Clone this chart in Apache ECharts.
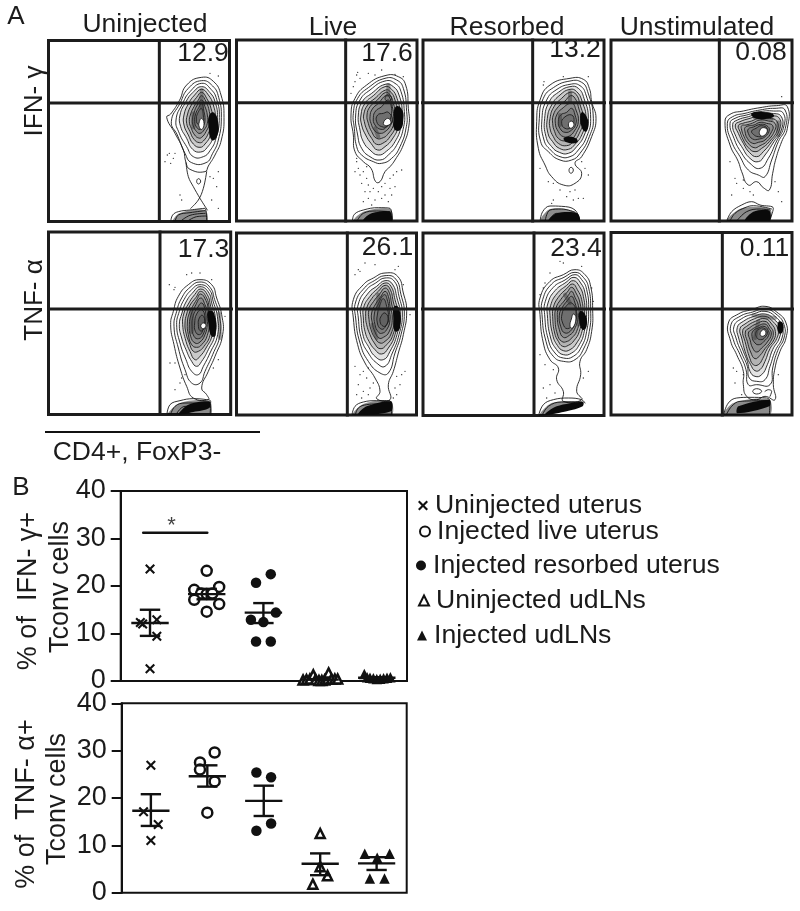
<!DOCTYPE html>
<html>
<head>
<meta charset="utf-8">
<style>
  html, body { margin: 0; background: #fff; }
  #main { width: 800px; height: 911px; }
</style>
<script src="https://cdn.jsdelivr.net/npm/echarts@6/dist/echarts.min.js"></script>
</head>
<body>
<div id="main"></div>
<script>
// --- panel A, contour plots. Flat x,y lists, in scan units
const gateX = [28, 32, 38, 28, 30, 37, 42, 37];
const gateY = [189, 203, 203, 203, 243, 243, 243, 243];

const rings = [
  [ // IFN uninjected
    [155,112,190,124,213,165,222,232,214,300,195,345,175,378,165,395,120,388,108,368,100,330,75,280,50,232,62,222,88,182,110,135],
    [155,122,188,138,206,172,214,232,205,300,188,340,168,368,125,368,105,340,82,285,64,245,90,190,115,145],
    [155,130,183,148,200,178,208,232,198,295,180,332,160,350,130,350,110,320,88,280,78,240,98,190,120,155],
    [155,140,180,158,195,185,202,232,190,290,172,322,152,336,128,328,110,295,92,260,90,225,108,185,128,158],
    [155,148,175,165,190,195,195,235,182,285,165,312,150,322,130,312,115,285,102,255,102,225,116,190,134,165],
    [155,157,170,175,183,205,188,240,175,280,160,303,148,308,132,298,120,275,110,250,112,225,124,195,140,172],
    [155,167,168,185,178,215,180,245,168,275,155,292,146,294,134,285,124,265,118,245,122,222,132,200,145,180],
    [155,180,165,200,172,225,172,250,162,270,150,280,140,275,130,258,127,240,132,218,142,195],
    [155,190,162,215,165,240,160,258,150,268,140,262,134,245,137,222,146,203],
    [155,205,160,228,160,245,152,256,143,252,139,240,143,220],
    [155,235,162,250,156,268,148,262,148,245],
    [145,416,152,423,146,432,140,425]
  ],
  [ // IFN live
    [150,122,190,125,212,150,220,220,222,270,205,330,180,375,165,395,150,410,135,440,122,440,108,400,85,380,60,350,55,300,48,240,60,190,95,150],
    [150,130,185,135,205,160,215,230,214,275,195,335,170,370,140,385,115,380,80,360,65,335,58,280,55,235,68,190,100,158],
    [150,138,180,145,198,170,208,230,206,275,188,325,160,360,135,375,105,365,80,340,68,300,62,240,75,195,105,165],
    [150,148,175,155,192,180,202,232,198,275,180,320,155,348,130,360,105,345,85,320,75,285,70,240,82,200,110,175],
    [150,155,170,163,186,190,195,235,190,275,172,312,150,335,128,345,108,325,92,300,80,270,78,240,90,205,115,182],
    [152,165,168,172,180,195,188,238,182,275,165,305,148,322,125,328,110,310,96,285,88,260,86,240,98,210,120,190],
    [152,172,165,180,175,205,182,240,175,272,158,298,145,308,125,310,110,290,100,265,96,240,105,215,125,197],
    [155,180,165,190,172,215,175,245,166,272,150,290,135,295,120,288,108,265,105,245,112,222,130,205],
    [158,195,168,210,168,245,155,275,138,283,120,270,115,248,122,228,140,215],
    [160,232,172,255,160,272,140,275,125,260,128,240,145,235],
    [160,180,170,190,160,200,150,190],
    [158,250,168,262,155,272,145,265]
  ],
  [ // IFN resorbed
    [150,130,190,133,208,160,215,200,228,250,215,305,185,365,165,385,185,415,165,445,130,450,95,425,75,390,55,340,50,260,60,195,90,150],
    [150,138,185,142,203,170,220,250,208,305,180,355,155,375,120,375,85,350,62,320,58,250,70,190,100,158],
    [150,148,180,152,198,180,212,250,200,305,175,345,150,365,120,365,92,345,72,315,66,250,80,195,108,165],
    [150,155,175,160,192,190,205,250,193,300,170,335,145,355,118,352,95,335,78,305,74,250,88,200,115,172],
    [150,163,170,170,186,198,198,252,186,298,165,328,145,343,118,340,98,320,84,295,82,250,95,210,120,180],
    [150,172,168,178,180,208,190,255,178,295,160,320,140,332,115,325,100,305,90,280,90,250,102,215,125,190],
    [152,182,165,190,175,215,182,258,170,292,155,312,135,318,115,310,104,290,98,265,100,240,115,215,135,198],
    [155,205,168,225,175,260,163,288,148,303,130,305,115,290,106,265,110,240,125,222],
    [155,220,165,240,168,265,155,285,135,292,120,280,115,260,122,240,140,232],
    [155,240,162,260,152,278,135,280,125,265,132,248],
    [153,258,162,268,153,280,145,270],
    [153,397,160,405,153,415,147,406]
  ],
  [ // IFN unstimulated
    [150,218,200,212,232,215,232,280,215,320,198,370,188,415,178,465,160,458,140,440,115,450,95,410,85,380,60,330,45,260,60,238,100,228],
    [150,225,195,220,225,225,226,280,205,320,185,375,165,425,145,420,115,405,90,365,65,320,52,265,68,245,105,235],
    [150,230,190,228,220,235,220,280,200,318,175,370,150,400,120,385,92,350,72,310,60,265,75,250,110,240],
    [150,235,185,235,214,245,214,285,192,320,165,360,145,380,120,370,95,335,78,305,68,268,82,255,115,245],
    [150,242,180,242,208,250,208,285,185,320,160,350,140,365,118,352,100,325,85,295,76,270,90,260,120,250],
    [150,248,178,250,200,258,202,285,178,320,155,340,135,350,115,338,100,315,90,290,85,272,98,265,125,258],
    [150,255,175,258,195,265,195,285,172,318,150,332,132,338,112,322,102,305,95,285,95,272,108,270,128,264],
    [150,262,170,265,188,272,185,290,165,315,145,322,128,325,112,310,105,290,105,278,118,272,132,270],
    [152,268,170,272,178,285,165,305,148,312,128,312,115,295,115,282,130,276],
    [155,272,172,282,162,302,145,305,130,298,125,288,138,280],
    [160,278,172,285,162,302,150,300,150,285]
  ],
  [ // TNF uninjected
    [150,155,185,170,200,210,215,260,218,320,195,385,175,430,155,480,170,500,175,515,130,510,110,475,90,420,72,350,62,290,70,250,85,205,115,170],
    [150,162,180,178,194,215,208,262,210,320,188,380,165,430,150,465,125,465,105,425,85,360,72,295,80,250,95,210,120,178],
    [150,170,178,185,190,222,202,265,203,320,180,375,160,415,145,440,125,430,108,395,90,345,80,290,88,250,102,215,125,185],
    [150,176,175,192,186,228,196,268,195,320,175,365,155,400,140,415,125,400,108,365,95,330,88,290,96,255,108,222,130,192],
    [152,183,172,200,182,235,190,270,187,320,168,360,150,385,135,395,120,370,108,340,98,290,102,255,115,228,134,200],
    [152,190,170,210,178,240,184,272,180,322,162,355,145,370,130,370,118,345,108,315,105,285,110,258,120,232,138,208],
    [152,198,168,218,175,245,178,275,172,322,155,350,140,358,125,350,115,320,112,285,118,255,128,235,140,215],
    [152,210,165,230,172,255,172,290,165,320,150,342,135,345,122,325,118,290,124,258,135,235],
    [155,225,165,245,168,280,160,318,146,332,132,325,126,295,130,262,142,240],
    [155,245,165,270,158,308,148,320,136,310,134,285,140,258],
    [158,262,165,285,160,305,150,308,145,290,148,270],
    [160,285,168,292,160,302,152,294]
  ],
  [ // TNF live
    [150,135,188,145,205,195,215,250,205,320,190,375,175,430,160,470,165,515,125,512,135,490,120,450,90,405,68,350,55,270,55,215,85,170,115,150],
    [150,143,182,153,198,200,208,255,198,320,180,375,160,435,135,435,100,400,75,345,62,270,62,222,90,178,118,158],
    [150,150,178,160,192,205,202,258,192,320,172,375,150,415,125,405,100,375,80,335,70,270,70,228,95,185,122,165],
    [150,158,172,168,186,210,196,260,186,320,165,370,145,395,120,385,100,355,85,325,78,270,78,235,100,195,125,175],
    [150,165,168,175,180,215,190,262,180,320,160,360,140,378,120,365,102,340,90,310,85,270,86,238,105,205,128,182],
    [150,172,165,183,175,222,184,265,174,320,155,350,135,362,118,345,105,320,95,290,92,265,95,240,110,212,130,190],
    [150,180,162,192,170,228,178,268,168,318,150,340,135,345,120,330,108,305,102,275,102,245,116,220,134,198],
    [150,190,160,205,165,235,172,270,162,312,145,328,132,330,120,312,112,285,110,255,122,228,136,208],
    [148,200,158,220,162,245,165,275,155,305,140,316,130,312,120,290,118,258,128,232],
    [145,212,155,235,160,270,150,298,138,303,127,285,128,255,135,230],
    [150,255,160,272,155,290,145,295,135,280,140,262]
  ],
  [ // TNF resorbed
    [165,125,195,140,212,175,218,245,215,310,200,365,180,400,182,440,170,490,185,515,130,520,130,490,110,455,115,420,90,395,70,345,60,260,60,210,90,160,130,140],
    [165,133,190,148,206,180,212,245,208,310,192,360,165,395,130,400,100,385,78,340,66,260,68,215,95,168,132,148],
    [165,140,185,155,200,185,206,248,200,310,185,355,160,385,130,390,105,375,85,335,74,260,76,220,100,178,135,156],
    [162,148,182,165,195,195,200,250,193,310,178,350,155,375,130,380,110,365,92,330,82,260,84,225,105,188,138,163],
    [160,158,178,175,190,205,194,252,186,310,170,345,150,365,130,368,112,352,98,320,90,262,92,232,110,198,140,172],
    [158,168,172,185,185,215,188,255,178,310,162,338,145,352,128,355,115,340,104,315,98,265,100,238,115,208,140,182],
    [155,178,168,195,180,225,182,258,170,310,155,330,142,340,125,340,112,318,105,270,108,240,122,215,142,192],
    [155,190,165,208,175,232,176,262,163,305,148,322,130,328,118,305,112,268,116,240,130,222,145,202],
    [155,205,165,225,170,250,168,275,155,305,135,315,122,295,118,262,126,240,142,218],
    [155,225,168,252,160,285,142,302,128,285,126,258,138,235],
    [160,258,168,270,158,300,150,295,155,270]
  ],
  [ // TNF unstimulated
    [165,235,200,252,228,285,228,330,210,370,195,420,190,470,195,515,165,505,140,515,110,505,100,470,100,430,80,380,62,340,55,285,85,258,125,245],
    [165,243,198,258,222,290,222,330,203,368,188,420,180,470,140,470,115,470,108,425,90,380,70,335,63,290,90,265,128,252],
    [165,250,195,265,216,295,216,330,196,368,180,415,165,455,140,460,118,450,112,415,95,375,78,330,72,295,95,272,130,258],
    [165,258,190,272,210,300,208,330,188,365,172,410,155,440,135,445,120,430,112,400,100,370,86,330,82,298,100,280,132,265],
    [165,265,188,280,204,305,200,332,180,362,165,400,150,425,135,428,122,410,110,385,95,330,90,302,105,288,134,272],
    [165,272,185,288,196,310,192,335,172,362,158,392,145,410,130,410,120,392,105,340,98,308,110,295,136,280],
    [165,280,180,295,190,315,182,340,165,362,150,382,135,392,122,372,112,340,106,312,118,300,138,288],
    [165,288,176,300,184,318,172,342,155,360,140,372,128,360,120,335,115,315,125,305,142,295],
    [162,295,175,308,176,322,162,340,148,350,135,345,126,325,130,308,145,300],
    [160,300,172,312,165,328,152,335,140,328,138,312,148,303],
    [160,305,168,315,158,325,150,318],
    [140,482,155,490,140,498,128,490]
  ]
];
// which ring of each plot is the pale hole in the middle
const paleRing = [10, 11, 10, 10, 11, 11, 10, 10];

// tails and the low population along the bottom edge, not closed
const openLines = [
  [[108,368,115,410,130,440,150,475,172,510],[170,395,160,445,145,480,122,505],[62,545,68,525,85,515,120,510,165,505,170,545],[75,545,85,525,120,518,165,512],[90,545,120,526,165,520],[110,545,140,530,168,528]],
  [[52,560,58,538,85,525,130,518,165,520,172,560],[65,560,85,535,125,528,165,530],[80,560,110,540,165,540]],
  [[60,560,68,530,90,513,125,514,165,525,180,560],[75,560,90,525,125,522,165,532],[85,560,110,535,170,540]],
  [[50,558,65,530,95,510,125,500,150,510,190,520,178,558],[60,558,75,535,105,518,130,512,185,522],[80,558,110,530,150,522,180,525]],
  [[50,565,60,530,90,518,130,512,170,515,182,520,180,565],[60,565,75,535,105,525,175,525],[75,565,105,535,175,535]],
  [[50,565,60,535,85,522,125,518,165,518,170,565],[60,565,70,540,95,530,125,528,168,528]],
  [[55,565,70,530,100,515,145,510,185,515,195,525],[65,565,85,535,125,522,185,522]],
  [[40,562,55,525,80,510,120,508,170,510,180,520,178,562],[48,562,65,535,90,520,175,518],[165,490,175,485,185,490,180,505]]
];

// saturated regions, closed outlines
const coreBlobs = [
  [[178,225,192,218,205,250,200,292,185,300,176,262]],
  [[182,215,200,222,205,255,195,285,178,282,176,250]],
  [[185,232,200,245,205,275,195,290,182,265],[132,308,165,308,172,322,140,322]],
  [[125,235,165,232,192,240,180,250,135,250]],
  [[175,250,192,255,197,320,185,325,175,285]],
  [[178,235,192,240,195,300,180,310,175,270]],
  [[180,250,195,258,200,295,188,305,178,278]],
  [[205,282,218,285,218,312,206,315]]
];
const baseShade = [
  [68,548,88,520,165,510,170,548],
  [55,560,85,530,165,522,170,560],
  [62,560,90,522,165,530,178,560],
  [52,558,95,520,180,522,178,558],
  [52,565,90,525,178,520,180,565],
  [52,565,85,528,168,520,168,565],
  [58,565,95,525,190,520,190,530],
  [42,562,70,525,178,515,178,562]
];
const baseCore = [
  [],
  [85,560,105,537,165,530,168,560],
  [85,560,110,535,172,535,178,560],
  [105,558,130,530,178,527,178,558],
  [85,560,115,530,178,520,178,540,130,552],
  [70,560,95,535,168,520,168,550],
  [75,560,110,535,188,522,188,535,140,550],
  [82,556,85,535,178,515,178,535]
];
const shadeBlobs = [
  [[130,220,130,262],[155,150,155,205]],
  [[160,150,160,180],[120,280,130,305]],
  [[150,172,150,200],[120,240,120,270]],
  [[135,248,185,252],[205,262,205,300]],
  [[125,250,125,312],[207,256,210,330]],
  [[130,200,130,235],[112,290,125,330]],
  [[135,200,150,225],[175,262,175,290]],
  [[130,262,195,270],[145,280,135,330]]
];

// single events outside the contours
const dots = [
  [70,355,58,340,62,370,45,365,190,415,205,395,185,480,95,480,180,100,205,108,180,410,90,465,52,345,75,340,200,440,205,505],
  [65,380,70,400,60,410,75,420,85,410,95,430,100,450,80,445,90,470,105,470,115,460,130,470,140,455,150,445,165,430,175,420,185,410,200,405,165,460,180,455,140,490,120,495,100,490,85,500,110,510,160,500,170,480,75,130,65,120,60,140,100,115,120,120,140,105,180,118,205,125,48,175,68,112,55,155,150,480,95,395,65,370],
  [70,150,72,140,130,125,205,125,195,400,185,380,60,400,100,445,85,440,120,465,150,470,165,465,190,490,175,490,100,495,140,485,205,420,95,505,160,495],
  [215,185,75,430,100,460,120,470,60,380,80,445,100,435,195,440,205,470,215,500,65,480,130,480],
  [110,140,125,135,150,135,185,155,58,170,72,185,75,178,60,405,75,405,95,450,75,485,90,465,105,440,190,420,205,395,225,265],
  [75,130,70,125,60,140,90,105,120,110,180,125,190,115,205,170,225,260,100,420,85,430,75,440,95,450,70,470,105,480,85,490,100,500,80,510,115,465,65,500,185,500,180,480,195,470,200,440,210,430,185,445,175,510,60,415],
  [70,180,60,200,75,165,90,135,120,100,130,105,185,115,215,180,220,220,60,380,75,410,100,425,90,470,105,495,70,480,80,510,190,450,205,430],
  [80,430,75,465,95,500,100,440,70,420,205,440]
];

const percentCounts = ['12.9', '17.6', '13.2', '0.08', '17.3', '26.1', '23.4', '0.11'];
const columnNames = ['Uninjected', 'Live', 'Resorbed', 'Unstimulated'];

// --- panel B
const groupNames = ['Uninjected uterus', 'Injected live uterus', 'Injected resorbed uterus', 'Uninjected udLNs', 'Injected udLNs'];
const yTicks = [0, 10, 20, 30, 40];

const ifnUninjected = [[1, 23.6], [0.83, 12.3], [0.87, 12], [1.12, 12.9], [1.12, 9.4], [1, 2.6]];
const ifnLive = [[2, 23.2], [1.78, 19.2], [2.22, 19.8], [1.9, 18.4], [2, 18.3], [2.1, 18.4], [1.78, 17.1], [2.22, 16.2], [2, 14.6]];
const ifnResorbed = [[2.87, 20.7], [3.13, 22.5], [3.22, 14.4], [2.78, 12.9], [3, 12.4], [2.87, 8.3], [3.13, 8.3]];
const ifnNodeCtrl = [[3.7, 0.2], [3.76, 0.3], [3.82, 0.4], [3.88, 1.3], [3.92, 0.3], [3.98, 0.1], [4.03, 0.1], [4.08, 0.2], [4.13, 0.4], [4.15, 1.7], [4.2, 0.4], [4.26, 0.4], [4.31, 0.4]];
const ifnNodeInj = [[4.78, 1.5], [4.83, 0.8], [4.88, 0.7], [4.94, 0.6], [5, 0.4], [5.06, 0.5], [5.12, 0.6], [5.18, 0.7], [5.24, 0.8]];
const ifnMeans = [12.2, 18.3, 14.4, 0.3, 0.7];
const ifnUpper = [15, 19.4, 16.4, 0.4, 0.8];
const ifnLower = [9.5, 17.2, 12.2, 0.2, 0.6];

const tnfUninjected = [[1, 26.9], [0.87, 17.1], [1.13, 14.4], [1, 11]];
const tnfLive = [[2.13, 29.6], [1.87, 27.5], [1.87, 26], [2.13, 23.5], [2, 16.9]];
const tnfResorbed = [[2.87, 25.4], [3.13, 24.4], [3.13, 14.6], [2.87, 13.1]];
const tnfNodeCtrl = [[4, 12.5], [4, 5.5], [4.13, 3.6], [3.87, 1.8]];
const tnfNodeInj = [[4.79, 8.2], [5.01, 7.4], [5.23, 8.2], [4.88, 3], [5.14, 3]];
const tnfMeans = [17.3, 24.6, 19.4, 6.1, 6.2];
const tnfUpper = [20.8, 26.9, 22.6, 8.3, 7.5];
const tnfLower = [14.1, 22.4, 16.2, 3.7, 4.8];

const sigBar = [[0.88, 31.2], [2.01, 31.2]];
const sigStar = [[1.38, 32.6]];

const INK = '#1c1c1c';
const FONT = '"Liberation Sans", Arial, sans-serif';
const CROSS = 'path://M0 1.5L1.5 0L5 3.5L8.5 0L10 1.5L6.5 5L10 8.5L8.5 10L5 6.5L1.5 10L0 8.5L3.5 5Z';

// frame of each contour plot on the page and the origin of its scan units
const boxes = [
  [48.5, 40.5, 229.5, 221.5], [236.5, 40, 417, 221], [423, 40, 604, 221], [611, 40, 792, 221],
  [48.5, 232, 230.7, 414.5], [236.5, 233, 416.5, 415], [423, 233, 604, 415.5], [611, 232.5, 792, 415]
];
const origins = [
  [150, 40], [335, 35], [520, 35], [710, 35],
  [150, 228], [335, 228], [520, 228], [710, 228]
];

const pairs = flat => {
  const out = [];
  for (let i = 0; i < flat.length; i += 2) out.push([flat[i], flat[i + 1]]);
  return out;
};

const grids = [], xAxes = [], yAxes = [], series = [];

const lineSeries = (i, data, width, color, smooth, z, opacity = 1) => ({
  type: 'line', xAxisIndex: i, yAxisIndex: i, data, smooth, silent: true, animation: false,
  symbol: 'none', z, lineStyle: { width, color, cap: 'round', join: 'round', opacity }
});

// closed smooth outlines, the style of each comes from styleOf(k)
const polySeries = (i, lists, styleOf, z, smooth = 0.5) => ({
  type: 'custom', xAxisIndex: i, yAxisIndex: i, silent: true, animation: false, z, clip: true,
  data: lists.map((r, k) => [k]),
  renderItem: (params, api) => {
    const k = api.value(0);
    return {
      type: 'polygon',
      shape: { points: pairs(lists[k]).map(p => api.coord(p)), smooth },
      style: styleOf(k)
    };
  }
});

boxes.forEach((b, i) => {
  const [ox, oy] = origins[i];
  grids.push({
    left: b[0], top: b[1], width: b[2] - b[0], height: b[3] - b[1],
    show: true, borderColor: INK, borderWidth: 3, backgroundColor: '#fff'
  });
  xAxes.push({ type: 'value', gridIndex: i, show: false, min: (b[0] - ox) * 3, max: (b[2] - ox) * 3 });
  yAxes.push({ type: 'value', gridIndex: i, show: false, inverse: true, min: (b[1] - oy) * 3, max: (b[3] - oy) * 3 });

  series.push(polySeries(i, rings[i], k => ({
    fill: k === paleRing[i] ? '#fff' : (k >= 3 && k < paleRing[i] ? 'rgba(0,0,0,0.11)' : 'rgba(0,0,0,0)'),
    stroke: INK, lineWidth: 0.9
  }), 3));
  shadeBlobs[i].forEach(s => series.push(lineSeries(i, pairs(s), 4, '#333', true, 4, 0.45)));
  openLines[i].forEach(r => series.push(lineSeries(i, pairs(r), 0.9, INK, 0.4, 3)));
  series.push(polySeries(i, coreBlobs[i], () => ({ fill: '#0a0a0a' }), 5));
  series.push(polySeries(i, [baseShade[i]], () => ({ fill: 'rgba(0,0,0,0.45)' }), 4, 0.3));
  if (baseCore[i].length) series.push(polySeries(i, [baseCore[i]], () => ({ fill: '#0a0a0a' }), 5, 0.3));
  series.push({
    type: 'scatter', xAxisIndex: i, yAxisIndex: i, data: pairs(dots[i]), silent: true, animation: false,
    symbolSize: 1.4, itemStyle: { color: '#333', opacity: 1 }, z: 2
  });
  // gate lines
  series.push(lineSeries(i, [[gateX[i], -9999], [gateX[i], 9999]], 3, INK, false, 6));
  series.push(lineSeries(i, [[-9999, gateY[i]], [9999, gateY[i]]], 3, INK, false, 6));
});

// two dot plots of panel B
const markStyles = [
  { symbol: CROSS, symbolSize: 10, itemStyle: { color: '#111', opacity: 1 } },
  { symbol: 'circle', symbolSize: 10, itemStyle: { color: '#fff', borderColor: '#111', borderWidth: 2.5, opacity: 1 } },
  { symbol: 'circle', symbolSize: 10.5, itemStyle: { color: '#111', opacity: 1 } },
  { symbol: 'triangle', symbolSize: 9, itemStyle: { color: '#fff', borderColor: '#111', borderWidth: 2.5, opacity: 1 } },
  { symbol: 'triangle', symbolSize: 10.5, itemStyle: { color: '#111', opacity: 1 } }
];

const addDotPlot = (idx, box, groups, means, upper, lower) => {
  grids.push({
    left: box[0], top: box[1], width: box[2] - box[0], height: box[3] - box[1],
    show: true, borderColor: '#111', borderWidth: 2, backgroundColor: 'transparent'
  });
  xAxes.push({
    type: 'value', gridIndex: idx, min: 0.483, max: 5.533,
    axisLine: { show: false }, axisTick: { show: false }, axisLabel: { show: false }, splitLine: { show: false }
  });
  yAxes.push({
    type: 'value', gridIndex: idx, min: yTicks[0], max: yTicks[yTicks.length - 1], interval: 10,
    axisLine: { show: true, lineStyle: { color: '#111', width: 2 } },
    axisTick: { show: true, length: 10, lineStyle: { color: '#111', width: 2 } },
    axisLabel: { fontSize: 27, color: '#1a1a1a', fontFamily: FONT, margin: 15 },
    splitLine: { show: false }
  });
  groups.forEach((g, k) => series.push({
    type: 'scatter', name: groupNames[k], xAxisIndex: idx, yAxisIndex: idx, data: g, animation: false, z: 4,
    ...markStyles[k]
  }));
  series.push({
    type: 'custom', xAxisIndex: idx, yAxisIndex: idx, silent: true, animation: false, z: 6,
    encode: { x: 0, y: 1 },
    data: means.map((m, k) => [k + 1, m, upper[k], lower[k]]),
    renderItem: (params, api) => {
      const x = api.value(0);
      const seg = (x0, v0, x1, v1) => {
        const a = api.coord([x0, v0]), b = api.coord([x1, v1]);
        return { type: 'line', shape: { x1: a[0], y1: a[1], x2: b[0], y2: b[1] }, style: { stroke: '#111', lineWidth: 2.4 } };
      };
      return {
        type: 'group',
        children: [
          seg(x - 0.33, api.value(1), x + 0.33, api.value(1)),
          seg(x - 0.18, api.value(2), x + 0.18, api.value(2)),
          seg(x - 0.18, api.value(3), x + 0.18, api.value(3)),
          seg(x, api.value(2), x, api.value(3))
        ]
      };
    }
  });
};

addDotPlot(8, [120.7, 491, 407, 681], [ifnUninjected, ifnLive, ifnResorbed, ifnNodeCtrl, ifnNodeInj], ifnMeans, ifnUpper, ifnLower);
addDotPlot(9, [121.7, 703.3, 406.7, 892.7], [tnfUninjected, tnfLive, tnfResorbed, tnfNodeCtrl, tnfNodeInj], tnfMeans, tnfUpper, tnfLower);

series.push(lineSeries(8, sigBar, 2.5, '#111', false, 5));
series.push({
  type: 'scatter', xAxisIndex: 8, yAxisIndex: 8, data: sigStar, symbolSize: 0, silent: true, animation: false,
  label: { show: true, formatter: '*', position: 'inside', fontSize: 22, color: '#111', fontFamily: FONT }
});

// free text on the page
const txt = (text, x, y, size, rotated) => ({
  type: 'text', x, y, rotation: rotated ? Math.PI / 2 : 0, z: 20, silent: true,
  style: { text, fontSize: size, fontFamily: FONT, fill: '#1c1c1c', textAlign: 'center', textVerticalAlign: 'middle' }
});

const countSpots = [[203, 54], [387, 54], [575, 50], [761, 53], [203.5, 250], [387.5, 248], [576, 249], [764.5, 249]];
const columnSpots = [[145, 25], [333, 28], [507, 28], [697, 28]];

const graphic = [
  txt('A', 16, 17, 26),
  txt('B', 21, 488, 26),
  ...columnNames.map((c, i) => txt(c, columnSpots[i][0], columnSpots[i][1], 26.5)),
  ...percentCounts.map((c, i) => txt(c, countSpots[i][0], countSpots[i][1], 26.5)),
  txt('IFN- γ', 35, 101, 26, true),
  txt('TNF- α', 35, 300, 26, true),
  txt('CD4+, FoxP3-', 137, 453, 26.5),
  txt('% of  IFN- γ+', 29, 591, 27, true),
  txt('Tconv cells', 61, 587, 27, true),
  txt('% of  TNF- α+', 27, 804, 27, true),
  txt('Tconv cells', 58, 799, 27, true),
  { type: 'line', z: 20, silent: true, shape: { x1: 45, y1: 432, x2: 260, y2: 432 }, style: { stroke: '#111', lineWidth: 2 } }
];

// one legend per row, the rows are not evenly spaced in the original
const legendRows = [[418, 507], [419, 533], [416, 567], [418, 602], [417, 637]];
const legend = groupNames.map((name, i) => ({
  data: [name], left: legendRows[i][0], top: legendRows[i][1] - 15, padding: 0, itemGap: 5,
  itemWidth: 10, itemHeight: 10, selectedMode: false, height: 30,
  textStyle: { fontSize: 26.6, color: '#1a1a1a', fontFamily: FONT, padding: [0, 0, 0, 2] }
}));

const chart = echarts.init(document.getElementById('main'), null, { renderer: 'canvas' });
chart.setOption({
  animation: false,
  backgroundColor: '#fff',
  grid: grids, xAxis: xAxes, yAxis: yAxes, series, graphic, legend
});
</script>
</body>
</html>
